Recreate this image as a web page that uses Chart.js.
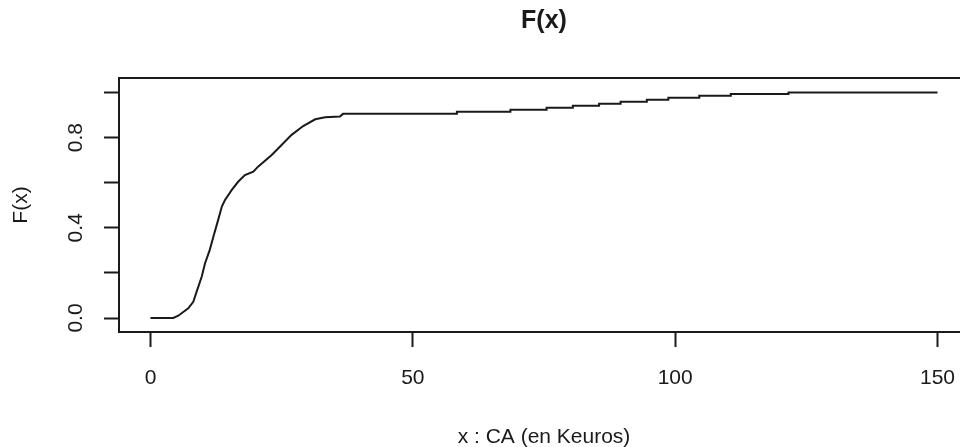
<!DOCTYPE html>
<html>
<head>
<meta charset="utf-8">
<script src="https://cdn.jsdelivr.net/npm/chart.js@4/dist/chart.umd.min.js"></script>
<style>
  html, body { margin: 0; padding: 0; background: #fff; overflow: hidden; }
</style>
</head>
<body>
<canvas id="fx" width="980" height="447"></canvas>
<script>
// x : CA (en Keuros) and F(x)
const caValues = [0, 4.35, 5.3, 7.2, 8.16, 8.8, 9.76, 10.4, 11.3, 12.0, 12.9, 13.6, 14.2, 15.5, 16.7, 18.0, 19.6, 20.5, 23.1, 24.7, 26.9, 29.1, 31.4, 33.3, 36.1,
  36.7, 58.4, 58.4, 68.6, 68.6, 75.5, 75.5, 80.5, 80.5, 85.5, 85.5, 89.6, 89.6, 94.6, 94.6, 98.7, 98.7, 104.6, 104.6, 110.6, 110.6, 121.6, 121.6, 150];
const fValues = [0, 0, 0.010, 0.043, 0.072, 0.117, 0.183, 0.243, 0.302, 0.361, 0.435, 0.494, 0.523, 0.568, 0.604, 0.634, 0.649, 0.671, 0.723, 0.760, 0.812, 0.851, 0.881, 0.890, 0.893,
  0.905, 0.905, 0.914, 0.914, 0.923, 0.923, 0.932, 0.932, 0.941, 0.941, 0.950, 0.950, 0.959, 0.959, 0.968, 0.968, 0.977, 0.977, 0.985, 0.985, 0.993, 0.993, 1.0, 1.0];

const xTicks = [0, 50, 100, 150];
const xTickLabels = ['0', '50', '100', '150'];
const yTicks = [0, 0.2, 0.4, 0.6, 0.8, 1.0];
const yTickLabels = ['0.0', '', '0.4', '', '0.8', ''];

const ink = '#1a1a1a';
const fontFam = "Arial, 'Liberation Sans', sans-serif";

// R style box around the plot region
const boxPlugin = {
  id: 'box',
  afterDraw(chart) {
    const {ctx, chartArea: a} = chart;
    ctx.save();
    ctx.strokeStyle = ink;
    ctx.lineWidth = 2;
    ctx.strokeRect(a.left, a.top, a.right - a.left, a.bottom - a.top);
    ctx.restore();
  }
};

const points = caValues.map((v, i) => ({x: v, y: fValues[i]}));

new Chart(document.getElementById('fx').getContext('2d'), {
  type: 'line',
  data: {
    datasets: [{
      data: points,
      borderColor: ink,
      borderWidth: 2,
      pointRadius: 0,
      tension: 0,
      fill: false
    }]
  },
  options: {
    responsive: false,
    animation: false,
    layout: { padding: { left: 0, right: 11, top: 0, bottom: 0 } },
    plugins: {
      legend: { display: false },
      tooltip: { enabled: false },
      title: {
        display: true,
        text: 'F(x)',
        fullSize: false,
        color: ink,
        font: { family: fontFam, size: 25, weight: 'bold' },
        padding: { top: 6, bottom: 42 }
      }
    },
    scales: {
      x: {
        type: 'linear',
        min: -6,
        max: 156,
        afterFit: s => { s.height = 115; },
        afterBuildTicks: s => { s.ticks = xTicks.map(v => ({value: v})); },
        border: { display: false },
        grid: { drawOnChartArea: false, drawTicks: true, tickLength: 15, tickWidth: 2, tickColor: ink },
        ticks: {
          color: ink,
          font: { family: fontFam, size: 21 },
          padding: 19,
          maxRotation: 0,
          autoSkip: false,
          callback: (v, i) => xTickLabels[i]
        },
        title: {
          display: true,
          text: 'x : CA (en Keuros)',
          color: ink,
          font: { family: fontFam, size: 21 },
          padding: { top: 0, bottom: -3 }
        }
      },
      y: {
        type: 'linear',
        min: -0.062,
        max: 1.064,
        afterFit: s => { s.width = 119; },
        afterBuildTicks: s => { s.ticks = yTicks.map(v => ({value: v})); },
        border: { display: false },
        grid: { drawOnChartArea: false, drawTicks: true, tickLength: 15, tickWidth: 2, tickColor: ink },
        ticks: {
          color: ink,
          font: { family: fontFam, size: 21 },
          padding: 13,
          minRotation: 90,
          maxRotation: 90,
          crossAlign: 'center',
          autoSkip: false,
          callback: (v, i) => yTickLabels[i]
        },
        title: {
          display: true,
          text: 'F(x)',
          color: ink,
          font: { family: fontFam, size: 21 },
          padding: { top: 9, bottom: 0 }
        }
      }
    }
  },
  plugins: [boxPlugin]
});
</script>
</body>
</html>
